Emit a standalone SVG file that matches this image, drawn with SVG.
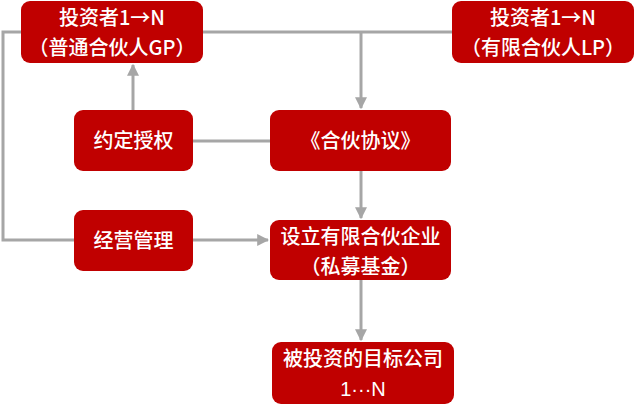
<svg xmlns="http://www.w3.org/2000/svg" width="640" height="412" viewBox="0 0 640 412">
<style>
.box{fill:#C00000;}
.t{fill:#fff;font-family:"Noto Sans CJK SC","Microsoft YaHei",sans-serif;font-size:20px;font-weight:500;text-anchor:middle;}
.lat{font-family:"Liberation Sans","Noto Sans CJK SC",sans-serif;}
.ln{stroke:#A6A6A6;stroke-width:3;fill:none;}
</style>
<defs>
<marker id="ah" viewBox="0 0 10 10" refX="9" refY="5" markerWidth="4" markerHeight="4" orient="auto" markerUnits="strokeWidth">
<path d="M0,0 L10,5 L0,10 z" fill="#A6A6A6"/>
</marker>
</defs>
<rect width="640" height="412" fill="#fff"/>
<g id="connectors">
<path class="ln" d="M21,32 H3 V240 H74"/>
<path class="ln" d="M203,32 H452"/>
<path class="ln" d="M361,32 V108" marker-end="url(#ah)"/>
<path class="ln" d="M133,110 V65" marker-end="url(#ah)"/>
<path class="ln" d="M193,141 H270"/>
<path class="ln" d="M361,171 V218" marker-end="url(#ah)"/>
<path class="ln" d="M193,240 H268" marker-end="url(#ah)"/>
<path class="ln" d="M361,280 V340" marker-end="url(#ah)"/>
</g>
<g id="gp">
<rect class="box" x="21" y="1" width="182" height="62" rx="9"/>
<text class="t" x="112" y="25">投资者1→N</text>
<text class="t" x="112" y="55">（普通合伙人GP）</text>
</g>
<g id="lp">
<rect class="box" x="452" y="1" width="182" height="62" rx="9"/>
<text class="t" x="543" y="25">投资者1→N</text>
<text class="t" x="543" y="55">（有限合伙人LP）</text>
</g>
<g id="yuding">
<rect class="box" x="74" y="110" width="119" height="61" rx="9"/>
<text class="t" x="133.5" y="148">约定授权</text>
</g>
<g id="xieyi">
<rect class="box" x="270" y="110" width="181" height="61" rx="9"/>
<text class="t" x="360.5" y="148">《合伙协议》</text>
</g>
<g id="jingying">
<rect class="box" x="74" y="210" width="119" height="61" rx="9"/>
<text class="t" x="133.5" y="248">经营管理</text>
</g>
<g id="sheli">
<rect class="box" x="270" y="220" width="181" height="60" rx="9"/>
<text class="t" x="360.5" y="244">设立有限合伙企业</text>
<text class="t" x="360.5" y="274">（私募基金）</text>
</g>
<g id="target">
<rect class="box" x="272" y="342" width="182" height="62" rx="9"/>
<text class="t" x="363" y="366">被投资的目标公司</text>
<text class="t lat" x="363" y="396">1···N</text>
</g>
</svg>
